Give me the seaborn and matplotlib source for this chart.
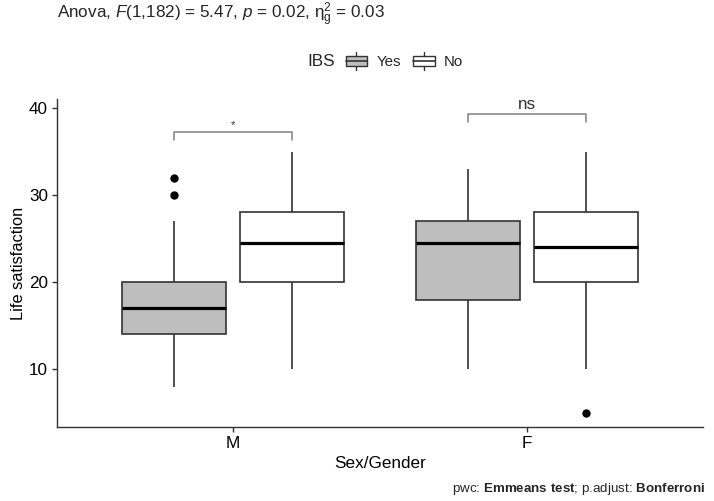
import matplotlib
matplotlib.use("Agg")
import matplotlib.pyplot as plt
from matplotlib.legend_handler import HandlerBase
from matplotlib.patches import Patch, Rectangle
from matplotlib.lines import Line2D
import seaborn as sns
import pandas as pd

# box summaries (M/F x IBS Yes/No)
sexes = ["M", "M", "F", "F"]
ibs = ["Yes", "No", "Yes", "No"]
whisker_lo = [8, 10, 10, 10]
q1 = [14, 20, 18, 20]
median = [17, 24.5, 24.5, 24]
q3 = [20, 28, 27, 28]
whisker_hi = [27, 35, 33, 35]
outliers = [[30, 32], [], [], [5]]

# brackets: (group, y, label)
brackets = [("M", 37.3, "*"), ("F", 39.35, "ns")]

sns.set_theme(style="ticks")
plt.rcParams["font.family"] = ["Liberation Sans", "DejaVu Sans"]
plt.rcParams["mathtext.fontset"] = "custom"
plt.rcParams["mathtext.rm"] = "Liberation Sans"
plt.rcParams["mathtext.it"] = "Liberation Sans:italic"
plt.rcParams["mathtext.bf"] = "Liberation Sans:bold"

# expand each summary so seaborn's quartiles land on the read values
rows = []
for i in range(4):
    vals = [whisker_lo[i]] + [q1[i]] * 3 + [median[i]] * 3 + [q3[i]] * 3 + [whisker_hi[i]] + outliers[i]
    for v in vals:
        rows.append({"sex": sexes[i], "IBS": ibs[i], "ls": v})
df = pd.DataFrame(rows)

fig = plt.figure(figsize=(7.14, 5.01), dpi=100)
ax = fig.add_axes([57 / 714, (501 - 426.7) / 501, (703 - 57) / 714, (426.7 - 99.3) / 501])

colors = {"Yes": "#bebebe", "No": "white"}
sns.boxplot(data=df, x="sex", y="ls", hue="IBS", order=["M", "F"], hue_order=["Yes", "No"],
            palette=colors, saturation=1, width=0.8, gap=0.115, linecolor="#333333",
            linewidth=1.2, showcaps=False, legend=False, ax=ax,
            medianprops=dict(color="black", linewidth=2.3),
            flierprops=dict(marker="o", markerfacecolor="black", markeredgecolor="black", markersize=5))

ax.set_xlim(-0.6, 1.6)
ax.set_ylim(3.4, 41.0)
ax.set_yticks([10, 20, 30, 40])
sns.despine(ax=ax)
for s in ["left", "bottom"]:
    ax.spines[s].set_color("#333333")
    ax.spines[s].set_linewidth(1.0)
ax.tick_params(axis="both", colors="#333333", labelcolor="black", labelsize=12.3, length=3.5, width=1.0, pad=3)
ax.set_xlabel("Sex/Gender", fontsize=12.3, color="black", labelpad=4)
ax.set_ylabel("Life satisfaction", fontsize=11.8, color="black", labelpad=2)

# significance brackets
pos = {"M": 0, "F": 1}
for grp, y, lab in brackets:
    x0, x1 = pos[grp] - 0.2, pos[grp] + 0.2
    ax.plot([x0, x0, x1, x1], [y - 0.95, y, y, y - 0.95], color="#808080", lw=1.1, clip_on=False)
    fs = 8 if lab == "*" else 12.3
    ax.text(pos[grp], y + 0.2, lab, ha="center", va="bottom", fontsize=fs, color="#333333")

fig.text(57 / 714, 1 - 15 / 501, r"Anova, $F$(1,182) = 5.47, $p$ = 0.02, $\mathrm{\eta}^2_{\mathrm{g}}$ = 0.03",
         ha="left", va="center", fontsize=12.3)


class BoxHandler(HandlerBase):
    def create_artists(self, legend, orig_handle, xdescent, ydescent, width, height, fontsize, trans):
        fc = orig_handle.get_facecolor()
        x0, y0 = -xdescent, -ydescent
        bh = height * 0.8
        by = y0 + (height - bh) / 2
        rect = Rectangle((x0, by), width, bh, facecolor=fc, edgecolor="#333333", lw=1.0, transform=trans)
        mid = Line2D([x0, x0 + width], [y0 + height / 2] * 2, color="#333333", lw=1.2, transform=trans)
        cx = x0 + width / 2
        w1 = Line2D([cx, cx], [by + bh, by + bh + height * 0.3], color="#333333", lw=1.0, transform=trans)
        w2 = Line2D([cx, cx], [by, by - height * 0.3], color="#333333", lw=1.0, transform=trans)
        return [rect, mid, w1, w2]


handles = [Patch(facecolor=colors[k]) for k in ["Yes", "No"]]
fig.text(307 / 714, 1 - 62 / 501, "IBS", ha="left", va="center", fontsize=12.3)
fig.legend(handles, ["Yes", "No"], handler_map={Patch: BoxHandler()}, ncol=2, frameon=False,
           loc="center left", bbox_to_anchor=(338 / 714, 1 - 62 / 501), fontsize=10.8,
           handlelength=1.45, handleheight=0.9, handletextpad=0.6, columnspacing=0.8, borderpad=0)

fig.text(705 / 714, 1 - 489 / 501, r"pwc: $\bf{Emmeans\ test}$; p.adjust: $\bf{Bonferroni}$",
         ha="right", va="center", fontsize=9.6)

fig.savefig("out.png", dpi=100)
